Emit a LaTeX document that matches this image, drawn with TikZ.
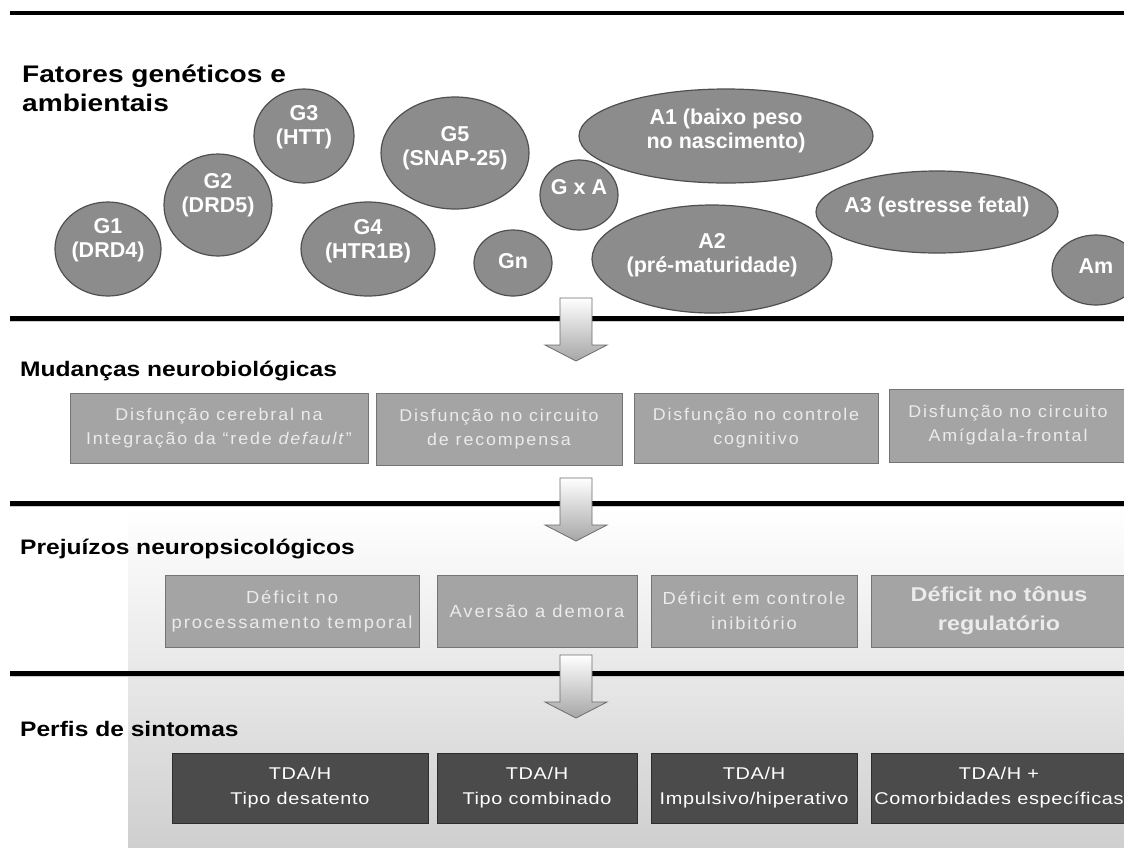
\documentclass[tikz,border=0pt]{standalone}
\usepackage{fontspec}
\setmainfont{Liberation Sans}[FakeStretch=1.17]
\newfontfamily\ellfont{Liberation Sans}
\newfontfamily\boxfont{Liberation Sans}[FakeStretch=1.05,LetterSpace=11]
\newfontfamily\symfont{Liberation Sans}[FakeStretch=1.17,LetterSpace=4]
\usetikzlibrary{shapes.geometric}
\definecolor{ellfill}{HTML}{8C8C8C}
\definecolor{elldraw}{HTML}{4F4F4F}
\definecolor{boxfill}{HTML}{A4A4A4}
\definecolor{boxdraw}{HTML}{747474}
\definecolor{boxtext}{HTML}{EBEBEB}
\definecolor{darkfill}{HTML}{4B4B4B}
\definecolor{darkdraw}{HTML}{2E2E2E}
\definecolor{panelbot}{HTML}{CFCFCF}
\newcommand{\blockarrow}[1]{\path[flowarrow] (560,#1) -- (592,#1) -- (592,#1+47) -- (607,#1+47) -- (576,#1+63) -- (545,#1+47) -- (560,#1+47) -- cycle;}
\begin{document}
\begin{tikzpicture}[x=1pt,y=-1pt,
 ell/.style={ellipse, draw=elldraw, line width=1.2pt, fill=ellfill, inner sep=0pt},
 elltext/.style={text=white, inner sep=0pt, align=center, font=\ellfont\bfseries\fontsize{21.5}{24}\selectfont},
 sechead/.style={anchor=base west, font=\bfseries\fontsize{21}{25}\selectfont, inner sep=0pt},
 titlehead/.style={anchor=base west, font=\bfseries\fontsize{24}{28}\selectfont, inner sep=0pt},
 lightbox/.style={rectangle, draw=boxdraw, line width=1pt, fill=boxfill, text=boxtext, align=center, inner sep=0pt},
 rowone/.style={lightbox, font=\boxfont\fontsize{17}{24}\selectfont},
 rowtwo/.style={lightbox, font=\boxfont\fontsize{17.5}{25}\selectfont},
 darkbox/.style={rectangle, draw=darkdraw, line width=1pt, fill=darkfill, text=white, align=center, inner sep=0pt, font=\symfont\fontsize{17}{25}\selectfont},
 sepline/.style={line width=5pt, black},
 sepshadow/.style={line width=2pt, gray!40},
 flowarrow/.style={top color=white, bottom color=gray!70, draw=gray!85!black, line width=0.8pt}
]
\useasboundingbox (0,0) rectangle (1124,847);
\fill[white] (0,0) rectangle (1124,847);
% background panel
\shade[top color=white, bottom color=panelbot] (128,508) rectangle (1124,847);
% separator lines
\draw[sepline, line width=4pt] (10,13) -- (1124,13);
\draw[sepshadow] (10,321) -- (1124,321);
\draw[sepline] (10,318) -- (1124,318);
\draw[sepshadow] (10,506) -- (1124,506);
\draw[sepline] (10,503) -- (1124,503);
\draw[sepshadow] (10,676) -- (1124,676);
\draw[sepline] (10,673) -- (1124,673);
% titles
\node[titlehead] (t1) at (22,82) {Fatores genéticos e};
\node[titlehead] (t2) at (22,111) {ambientais};
\node[sechead] (h1) at (20,376) {Mudanças neurobiológicas};
\node[sechead] (h2) at (20,554) {Prejuízos neuropsicológicos};
\node[sechead] (h3) at (20,736) {Perfis de sintomas};
% ellipses
\node[ell, minimum width=106pt, minimum height=94pt] (g1) at (108,249) {};
\node[ell, minimum width=108pt, minimum height=102pt] (g2) at (218,205) {};
\node[ell, minimum width=100pt, minimum height=94pt] (g3) at (304,136) {};
\node[ell, minimum width=134pt, minimum height=94pt] (g4) at (368,249) {};
\node[ell, minimum width=148pt, minimum height=112pt] (g5) at (455,153) {};
\node[ell, minimum width=78pt, minimum height=66pt] (gn) at (513,263) {};
\node[ell, minimum width=78pt, minimum height=70pt] (gxa) at (579,195) {};
\node[ell, minimum width=294pt, minimum height=94pt] (a1) at (726,136) {};
\node[ell, minimum width=240pt, minimum height=108pt] (a2) at (712,259) {};
\node[ell, minimum width=242pt, minimum height=82pt] (a3) at (937,212) {};
\node[ell, minimum width=88pt, minimum height=70pt] (am) at (1096,270) {};
\node[elltext] (g1t) at ([yshift=9pt]g1.center) {G1\\(DRD4)};
\node[elltext] (g2t) at ([yshift=10pt]g2.center) {G2\\(DRD5)};
\node[elltext] (g3t) at ([yshift=9pt]g3.center) {G3\\(HTT)};
\node[elltext] (g4t) at ([yshift=8pt]g4.center) {G4\\(HTR1B)};
\node[elltext] (g5t) at ([yshift=5pt]g5.center) {G5\\(SNAP-25)};
\node[elltext] (gnt) at ([yshift=2pt]gn.center) {Gn};
\node[elltext] (gxat) at ([yshift=8pt]gxa.center) {G x A};
\node[elltext] (a1t) at ([yshift=5pt]a1.center) {A1 (baixo peso\\no nascimento)};
\node[elltext] (a2t) at ([yshift=4pt]a2.center) {A2\\(pré-maturidade)};
\node[elltext] (a3t) at ([yshift=5pt]a3.center) {A3 (estresse fetal)};
\node[elltext] (amt) at ([yshift=4pt]am.center) {Am};
% row 1
\node[rowone, minimum width=298pt, minimum height=70pt] (n1) at (219,428) {Disfunção cerebral na\\Integração da “rede \textit{default}”};
\node[rowone, minimum width=246pt, minimum height=72pt] (n2) at (499,429) {Disfunção no circuito\\de recompensa};
\node[rowone, minimum width=244pt, minimum height=70pt] (n3) at (756,428) {Disfunção no controle\\cognitivo};
\node[rowone, minimum width=238pt, minimum height=73pt] (n4) at (1008,425.5) {Disfunção no circuito\\Amígdala-frontal};
% row 2
\node[rowtwo, minimum width=254pt, minimum height=72pt] (c1) at (292,611) {Déficit no\\processamento temporal};
\node[rowtwo, minimum width=200pt, minimum height=72pt] (c2) at (537,611) {Aversão a demora};
\node[rowtwo, minimum width=206pt, minimum height=72pt] (c3) at (754,611) {Déficit em controle\\inibitório};
\node[lightbox, font=\bfseries\fontsize{20}{29}\selectfont, minimum width=256pt, minimum height=72pt] (c4) at (999,611) {Déficit no tônus\\regulatório};
% row 3
\node[darkbox, minimum width=256pt, minimum height=70pt] (d1) at (300,788) {TDA/H\\Tipo desatento};
\node[darkbox, minimum width=200pt, minimum height=70pt] (d2) at (537,788) {TDA/H\\Tipo combinado};
\node[darkbox, minimum width=206pt, minimum height=70pt] (d3) at (754,788) {TDA/H\\Impulsivo/hiperativo};
\node[darkbox, minimum width=256pt, minimum height=70pt] (d4) at (999,788) {TDA/H +\\Comorbidades específicas};
% block arrows
\blockarrow{298}
\blockarrow{478}
\blockarrow{655}
\end{tikzpicture}
\end{document}
